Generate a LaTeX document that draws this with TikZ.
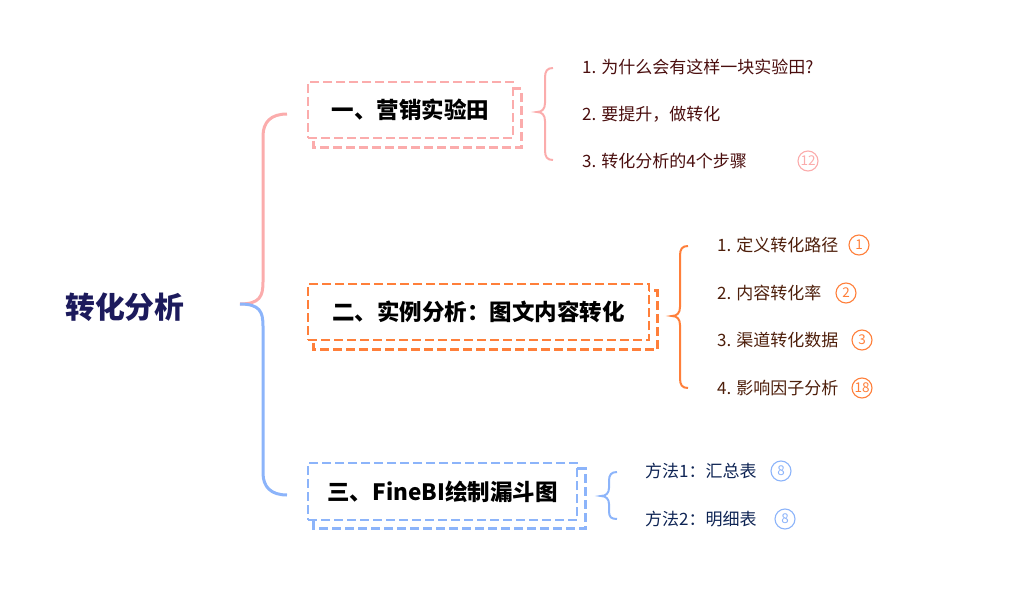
\documentclass[tikz,border=0pt]{standalone}
\usepackage{fontspec}
\setmainfont{Noto Sans CJK SC}
\usetikzlibrary{backgrounds}
\definecolor{cpink}{HTML}{FBACAC}
\definecolor{corange}{HTML}{FF7F3A}
\definecolor{cblue}{HTML}{8CB4FA}
\definecolor{rootnavy}{HTML}{1C1A5C}
\definecolor{leafmaroon}{HTML}{4A0E0E}
\definecolor{leafbrown}{HTML}{4D1E0A}
\definecolor{leafnavy}{HTML}{0E2454}
\begin{document}
\begin{tikzpicture}[x=1pt,y=-1pt,
  rootnode/.style={text=rootnavy,font=\bfseries\fontsize{29.8}{32}\selectfont,inner sep=0pt},
  topicbox/.style={draw=#1,fill=white,dash pattern=on 9pt off 4pt,line width=2.6pt,inner sep=0pt,
     font=\bfseries\fontsize{22.5}{25}\selectfont,text=black},
  shadowbox/.style={draw=#1,dash pattern=on 9pt off 4pt,line width=2.6pt},
  bigbrace/.style={draw=#1,line width=3pt},
  smallbrace/.style={draw=#1,line width=2pt},
  leaf/.style={anchor=west,inner sep=0pt,text=#1,font=\fontsize{17}{20}\selectfont},
  badge/.style={circle,draw=#1,text=#1,line width=1.1pt,minimum size=20pt,inner sep=0pt,
     font=\fontsize{13.5}{13.5}\selectfont}]
\useasboundingbox (0,0) rectangle (1021,605);

% root
\node[rootnode] (root) at (125,307) {转化分析};
\coordinate (j) at (240,304);
\coordinate (e1) at (287,114);
\coordinate (e3) at (287,495);

% main brace
\path[bigbrace=cpink] (j) .. controls (260,304) and (263,296) .. (263,282) -- (263,136)
   .. controls (263,122) and (271,114) .. (e1);
\path[bigbrace=cblue] (j) .. controls (260,304) and (263,312) .. (263,326) -- (263,473)
   .. controls (263,487) and (271,495) .. (e3);

% topic boxes
\node[topicbox=cpink,minimum width=205pt,minimum height=56pt] (b1) at (410.5,110) {一、营销实验田};
\node[topicbox=corange,minimum width=341pt,minimum height=56pt] (b2) at (478.5,312) {二、实例分析：图文内容转化};
\node[topicbox=cblue,minimum width=269pt,minimum height=57pt] (b3) at (442.5,491.5) {三、FineBI绘制漏斗图};
\begin{scope}[on background layer]
\draw[shadowbox=cpink] ([shift={(7,8)}]b1.north west) rectangle ([shift={(7,8)}]b1.south east);
\draw[shadowbox=corange] ([shift={(7,8)}]b2.north west) rectangle ([shift={(7,8)}]b2.south east);
\draw[shadowbox=cblue] ([shift={(7,7)}]b3.north west) rectangle ([shift={(7,7)}]b3.south east);
\end{scope}

% small braces
\coordinate (t1) at (537,112);
\path[smallbrace=cpink] (553,68) .. controls (547,68) and (545,71) .. (545,78) -- (545,103)
  .. controls (545,109) and (542,112) .. (t1) .. controls (542,112) and (545,115) .. (545,121)
  -- (545,150) .. controls (545,157) and (547,160) .. (553,160);
\coordinate (t2) at (672,316);
\path[smallbrace=corange] (688,246) .. controls (682,246) and (680,249) .. (680,256) -- (680,307)
  .. controls (680,313) and (677,316) .. (t2) .. controls (677,316) and (680,319) .. (680,325)
  -- (680,378) .. controls (680,385) and (682,388) .. (688,388);
\coordinate (t3) at (601,496);
\path[smallbrace=cblue] (617,472) .. controls (611,472) and (609,475) .. (609,481) -- (609,488)
  .. controls (609,493) and (606,496) .. (t3) .. controls (606,496) and (609,499) .. (609,504)
  -- (609,511) .. controls (609,517) and (611,519) .. (617,519);

% leaves of topic 1
\node[leaf=leafmaroon] (l11) at (582,67) {1. 为什么会有这样一块实验田?};
\node[leaf=leafmaroon] (l12) at (582,114) {2. 要提升，做转化};
\node[leaf=leafmaroon] (l13) at (582,161) {3. 转化分析的4个步骤};
\node[badge=cpink] (n13) at (808,161) {12};

% leaves of topic 2
\node[leaf=leafbrown] (l21) at (717,245) {1. 定义转化路径};
\node[badge=corange] (n21) at (859,245) {1};
\node[leaf=leafbrown] (l22) at (717,293) {2. 内容转化率};
\node[badge=corange] (n22) at (846,293) {2};
\node[leaf=leafbrown] (l23) at (717,340) {3. 渠道转化数据};
\node[badge=corange] (n23) at (862,340) {3};
\node[leaf=leafbrown] (l24) at (717,388) {4. 影响因子分析};
\node[badge=corange] (n24) at (862,388) {18};

% leaves of topic 3
\node[leaf=leafnavy] (l31) at (645,471) {方法1：汇总表};
\node[badge=cblue] (n31) at (781,471) {8};
\node[leaf=leafnavy] (l32) at (645,519) {方法2：明细表};
\node[badge=cblue] (n32) at (785,519) {8};
\end{tikzpicture}
\end{document}
